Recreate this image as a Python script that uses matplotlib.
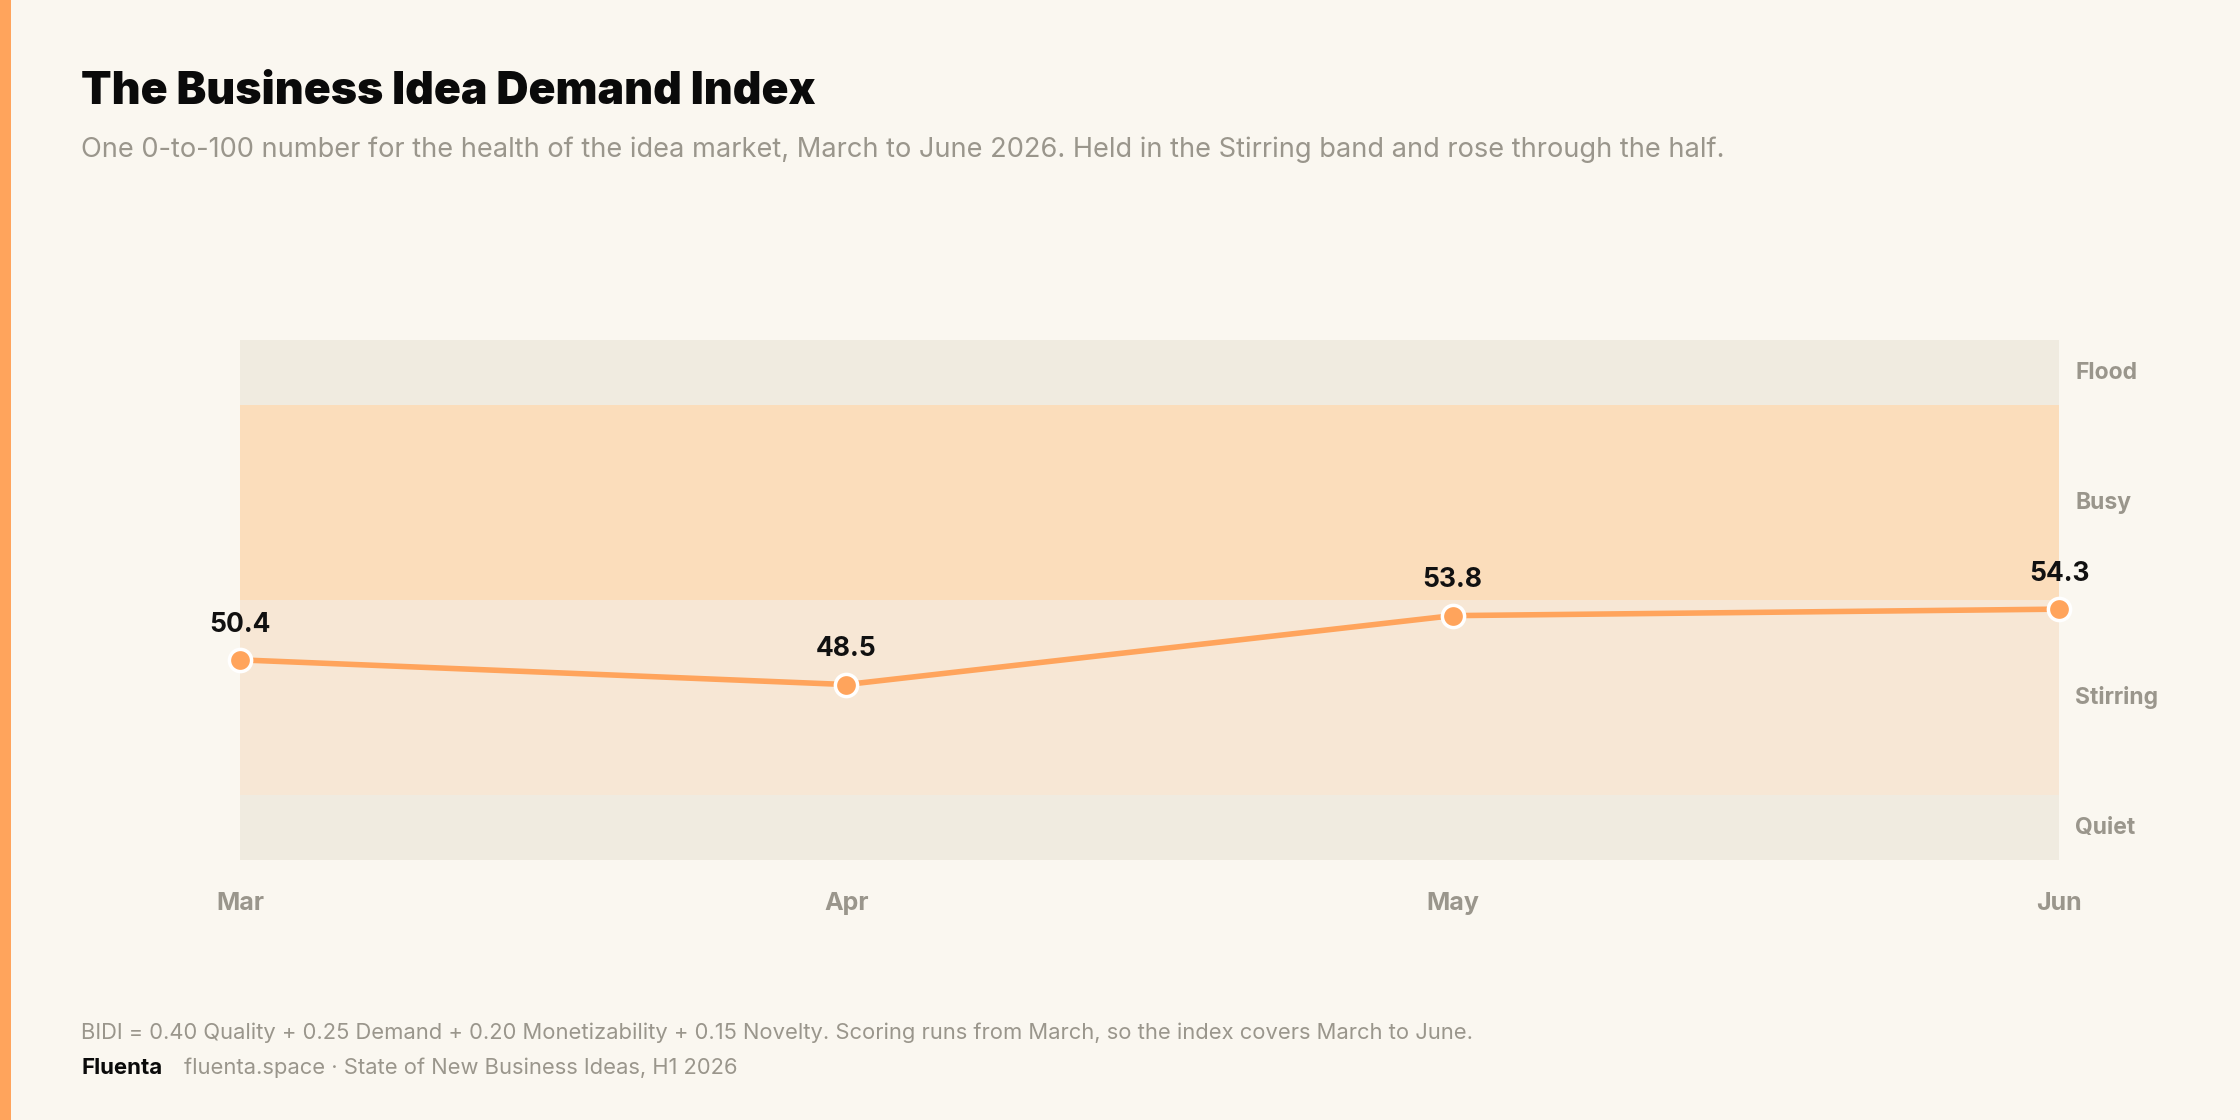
import matplotlib
matplotlib.use("Agg")
import matplotlib.pyplot as plt
from matplotlib.patches import Rectangle

# data
months = ["Mar", "Apr", "May", "Jun"]
bidi = [50.4, 48.5, 53.8, 54.3]

band_names = ["Quiet", "Stirring", "Busy", "Flood"]
band_lo = [35, 40, 55, 70]
band_hi = [40, 55, 70, 75]
band_colors = ["#F0EBE0", "#F7E7D5", "#FBDDBB", "#F0EBE0"]

BG = "#FAF7F0"
ORANGE = "#FFA45C"
GRAY = "#9A968C"

plt.rcParams["font.family"] = ["Inter", "DejaVu Sans"]

fig = plt.figure(figsize=(22.4, 11.2), dpi=100, facecolor=BG)
ax = fig.add_axes([0.1071, 0.2321, 0.8121, 0.4643])
ax.set_facecolor(BG)

# bands
for lo, hi, c, name in zip(band_lo, band_hi, band_colors, band_names):
    ax.axhspan(lo, hi, color=c, lw=0, zorder=0)
    ax.text(1.0088, (lo + hi) / 2, name, transform=ax.get_yaxis_transform(),
            ha="left", va="center", fontsize=16.5, fontweight="bold", color=GRAY)

x = list(range(len(months)))
ax.plot(x, bidi, color=ORANGE, lw=4, zorder=3, solid_capstyle="round",
        marker="o", markersize=16, markerfacecolor=ORANGE,
        markeredgecolor="white", markeredgewidth=2.5, clip_on=False)

for xi, v in zip(x, bidi):
    ax.annotate(f"{v:.1f}", (xi, v), xytext=(0, 16), textcoords="offset points",
                ha="center", va="bottom", fontsize=19, fontweight="bold",
                color="#111111", zorder=5)

ax.set_xlim(0, 3)
ax.set_ylim(35, 75)
ax.set_xticks(x)
ax.set_xticklabels(months, fontsize=18, fontweight="bold", color=GRAY)
ax.tick_params(axis="x", length=0, pad=23)
ax.set_yticks([])
for s in ax.spines.values():
    s.set_visible(False)

# left accent bar
fig.patches.append(Rectangle((0, 0), 11 / 2240, 1, transform=fig.transFigure,
                             color=ORANGE, lw=0))

fig.text(0.0363, 0.907, "The Business Idea Demand Index", fontsize=32,
         fontweight="black", color="#0A0A0A", va="baseline", ha="left")
fig.text(0.0363, 0.86,
         "One 0-to-100 number for the health of the idea market, March to June 2026. "
         "Held in the Stirring band and rose through the half.",
         fontsize=19.6, color=GRAY, va="baseline", ha="left")

fig.text(0.0363, 0.0723,
         "BIDI = 0.40 Quality + 0.25 Demand + 0.20 Monetizability + 0.15 Novelty. "
         "Scoring runs from March, so the index covers March to June.",
         fontsize=15.8, color=GRAY, va="baseline", ha="left")
fig.text(0.0363, 0.041, "Fluenta", fontsize=16, fontweight="bold",
         color="#0A0A0A", va="baseline", ha="left")
fig.text(0.0821, 0.041, "fluenta.space · State of New Business Ideas, H1 2026",
         fontsize=15.8, color=GRAY, va="baseline", ha="left")

fig.savefig("out.png", dpi=100, facecolor=BG)
